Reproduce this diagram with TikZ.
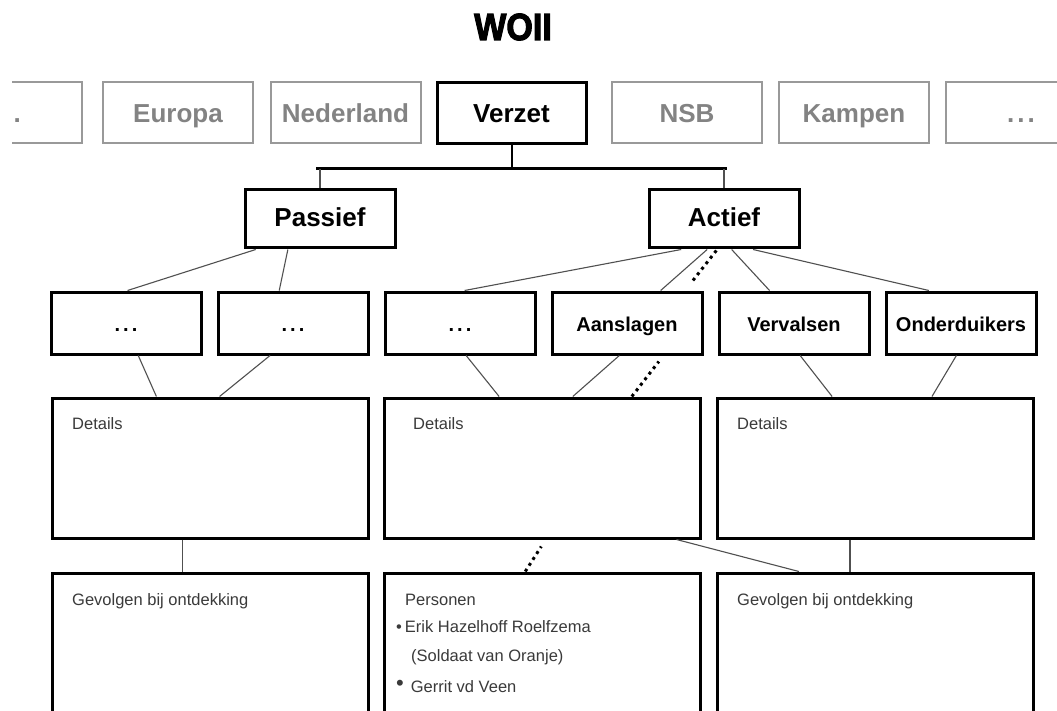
\documentclass[tikz,border=0pt]{standalone}
\usepackage{fontspec}
\usepackage{graphicx}
\setmainfont{Liberation Sans}
\newfontfamily\titlefont{Liberation Sans}[UprightFont={* Bold},FakeBold=3]
\usetikzlibrary{calc}
\definecolor{topgray}{HTML}{838383}
\definecolor{topline}{HTML}{999999}
\definecolor{txtgray}{HTML}{3A3A3A}
\definecolor{conn}{HTML}{505050}
\newcommand\mydots{.\kern3pt.\kern3pt.}
\begin{document}
\begin{tikzpicture}[x=1pt,y=-1pt,
  topbox/.style={draw=topline, line width=2pt, minimum width=150pt, minimum height=61pt, inner sep=0pt, text=topgray, text height=20pt, text depth=0pt, font=\fontsize{26}{30}\selectfont\bfseries},
  mainbox/.style={draw=black, line width=3pt, minimum width=150pt, minimum height=62pt, inner sep=0pt, text height=16pt, text depth=0pt, font=\fontsize{26}{30}\selectfont\bfseries},
  subbox/.style={draw=black, line width=3pt, minimum width=150pt, minimum height=62pt, inner sep=0pt, text height=16pt, text depth=0pt, font=\fontsize{20}{24}\selectfont\bfseries},
  bigbox/.style={draw=black, line width=3pt, minimum width=316pt, inner sep=0pt},
  lbl/.style={inner sep=0pt, text=txtgray, font=\fontsize{16.5}{20}\selectfont},
  thinln/.style={draw=conn, line width=1.1pt},
  dotln/.style={draw=black, line width=3pt, dash pattern=on 3pt off 4pt},
]
\useasboundingbox (0,0) rectangle (1057,711);
\fill[white] (0,0) rectangle (1057,711);
\begin{scope}
\clip (0,0) rectangle (1057,711);

% title
\node[font=\titlefont\fontsize{37}{40}\selectfont, anchor=base, inner sep=0pt] (title) at (513,40) {\scalebox{0.92}[1.02]{WOII}};

% top row
\begin{scope}
\clip (12,0) rectangle (120,200);
\node[topbox] (tl) at (7,113) {\mydots};
\end{scope}
\node[topbox] (eur) at (178,113) {Europa};
\node[topbox] (ned) at (345.5,113) {Nederland};
\node[mainbox, minimum width=149pt, minimum height=61pt, text height=20pt] (verz) at (511.5,113) {Verzet};
\node[topbox] (nsb) at (687,113) {NSB};
\node[topbox] (kam) at (854,113) {Kampen};
\node[topbox] (tr) at (1021,113) {\mydots};

% second row
\node[mainbox, minimum height=58pt] (pas) at (320,219) {Passief};
\node[mainbox, minimum height=58pt] (act) at (724,219) {Actief};

% third row
\node[subbox] (b1) at (126,323) {\mydots};
\node[subbox] (b2) at (293,323) {\mydots};
\node[subbox] (b3) at (460,323) {\mydots};
\node[subbox] (aan) at (627,323) {Aanslagen};
\node[subbox] (ver) at (794,323) {Vervalsen};
\node[subbox] (ond) at (961,323) {Onderduikers};

% detail boxes
\node[bigbox, minimum height=140pt] (d1) at (210,468) {};
\node[bigbox, minimum height=140pt] (d2) at (542.5,468) {};
\node[bigbox, minimum height=140pt] (d3) at (875.5,468) {};

% bottom boxes
\node[bigbox, minimum height=180pt] (g1) at (210,663) {};
\node[bigbox, minimum height=180pt] (g2) at (542.5,663) {};
\node[bigbox, minimum height=180pt] (g3) at (875.5,663) {};

% labels
\node[lbl, anchor=base west] (d1t) at (72,429) {Details};
\node[lbl, anchor=base west] (d2t) at (413,429) {Details};
\node[lbl, anchor=base west] (d3t) at (737,429) {Details};
\node[lbl, anchor=base west] (g1t) at (72,605) {Gevolgen bij ontdekking};
\node[lbl, anchor=base west] (g3t) at (737,605) {Gevolgen bij ontdekking};
\node[lbl, anchor=base west] (p0) at (405,605) {Personen};
\node[lbl, anchor=base west] (p1) at (396,632) {•\kern3pt Erik Hazelhoff Roelfzema};
\node[lbl, anchor=base west] (p2) at (411,661) {(Soldaat van Oranje)};
\node[lbl, anchor=base west] (p3) at (396,692) {\raisebox{2pt}{\fontsize{22}{22}\selectfont•}\kern7pt Gerrit vd Veen};

% verzet bar
\coordinate (bary) at (0,169);
\draw[line width=3pt] ($(pas.north |- bary)+(-4,0)$) -- ($(act.north |- bary)+(3,0)$);
\draw[line width=2pt] (verz.south) -- (verz.south |- bary);
\draw[draw=conn, line width=1.6pt] (pas.north |- bary) -- (pas.north);
\draw[draw=conn, line width=1.6pt] (act.north |- bary) -- (act.north);

% row 2 -> row 3
\draw[thinln] ($(pas.south west)!0.08!(pas.south east)$) -- ($(b1.north west)!0.51!(b1.north east)$);
\draw[thinln] ($(pas.south west)!0.29!(pas.south east)$) -- ($(b2.north west)!0.41!(b2.north east)$);
\draw[thinln] ($(act.south west)!0.22!(act.south east)$) -- ($(b3.north west)!0.53!(b3.north east)$);
\draw[thinln] ($(act.south west)!0.39!(act.south east)$) -- ($(aan.north west)!0.72!(aan.north east)$);
\draw[dotln] ($(act.south west)!0.45!(act.south east)+(0,1)$) -- ++(-25,32) coordinate (dAend);
\draw[thinln] ($(act.south west)!0.55!(act.south east)$) -- ($(ver.north west)!0.34!(ver.north east)$);
\draw[thinln] ($(act.south west)!0.69!(act.south east)$) -- ($(ond.north west)!0.29!(ond.north east)$);

% row 3 -> details
\draw[thinln] ($(b1.south west)!0.58!(b1.south east)$) -- ($(d1.north west)!0.332!(d1.north east)$);
\draw[thinln] ($(b2.south west)!0.35!(b2.south east)$) -- ($(d1.north west)!0.53!(d1.north east)$);
\draw[thinln] ($(b3.south west)!0.54!(b3.south east)$) -- ($(d2.north west)!0.364!(d2.north east)$);
\draw[thinln] ($(aan.south west)!0.45!(aan.south east)$) -- ($(d2.north west)!0.595!(d2.north east)$);
\draw[dotln] ($(d2.north west)!0.78!(d2.north east)$) -- ++(27,-35) coordinate (dBend);
\draw[thinln] ($(ver.south west)!0.54!(ver.south east)$) -- ($(d3.north west)!0.364!(d3.north east)$);
\draw[thinln] ($(ond.south west)!0.47!(ond.south east)$) -- ($(d3.north west)!0.677!(d3.north east)$);

% details -> bottom
\draw[thinln] ($(d1.south west)!0.415!(d1.south east)$) coordinate (d1s) -- (d1s |- g1.north);
\draw[thinln] ($(d3.south west)!0.42!(d3.south east)$) coordinate (d3s) -- (d3s |- g3.north);
\draw[thinln] ($(d2.south west)!0.92!(d2.south east)$) -- ($(g3.north west)!0.26!(g3.north east)$);
\draw[dotln] ($(g2.north west)!0.446!(g2.north east)$) -- ++(16,-25) coordinate (dCend);
\end{scope}
\end{tikzpicture}
\end{document}
